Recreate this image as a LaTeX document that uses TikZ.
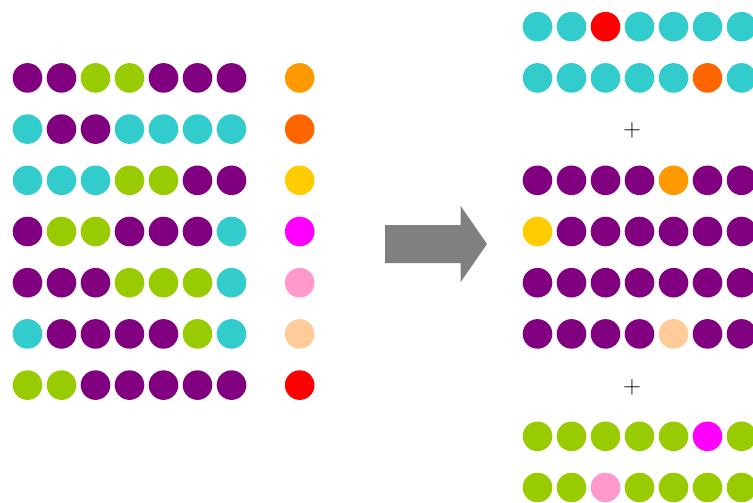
\documentclass[tikz,border=0pt]{standalone}
\usepackage{tikz}
\usetikzlibrary{positioning}
\definecolor{vio}{HTML}{800080}
\definecolor{lime}{HTML}{99CC00}
\definecolor{teal2}{HTML}{33CCCC}
\definecolor{amber}{HTML}{FF9900}
\definecolor{rust}{HTML}{FF6600}
\definecolor{gold}{HTML}{FFCC00}
\definecolor{mag}{HTML}{FF00FF}
\definecolor{rose}{HTML}{FF99CC}
\definecolor{peach}{HTML}{FFCC99}
\definecolor{signal}{HTML}{FF0000}
\tikzset{dot/.style={circle,minimum size=29.6pt,inner sep=0pt,outer sep=0pt},
  plusmark/.style={inner sep=0pt,font=\fontsize{27}{30}\selectfont},
  bigarr/.style={fill=gray}}

\begin{document}
\begin{tikzpicture}[x=1pt,y=-1pt]
\useasboundingbox (0,0) rectangle (753,503);
\clip (0,0) rectangle (753,503);
% left block: seven rows and a key colour for each
\foreach \r/\cols/\key in {1/{vio,vio,lime,lime,vio,vio,vio}/amber,
  2/{teal2,vio,vio,teal2,teal2,teal2,teal2}/rust,
  3/{teal2,teal2,teal2,lime,lime,vio,vio}/gold,
  4/{vio,lime,lime,vio,vio,vio,teal2}/mag,
  5/{vio,vio,vio,lime,lime,lime,teal2}/rose,
  6/{teal2,vio,vio,vio,vio,lime,teal2}/peach,
  7/{lime,lime,vio,vio,vio,vio,vio}/signal}{
  \foreach \c [count=\i] in \cols
    \node[dot,fill=\c] (L-\r-\i) at ({27.5+34*(\i-1)},{26.7+51.2*\r}) {};
  \node[dot,fill=\key] (K-\r) at (299.7,{26.7+51.2*\r}) {};
}
% arrow
\fill[bigarr] (385,225) -- (460.7,225) -- (460.7,206) -- (487,244) -- (460.7,282) -- (460.7,263) -- (385,263) -- cycle;
% right block
\foreach \r/\cols in {0/{teal2,teal2,signal,teal2,teal2,teal2,teal2},
  1/{teal2,teal2,teal2,teal2,teal2,rust,teal2},
  3/{vio,vio,vio,vio,amber,vio,vio},
  4/{gold,vio,vio,vio,vio,vio,vio},
  5/{vio,vio,vio,vio,vio,vio,vio},
  6/{vio,vio,vio,vio,peach,vio,vio},
  8/{lime,lime,lime,lime,lime,mag,lime},
  9/{lime,lime,rose,lime,lime,lime,lime}}{
  \foreach \c [count=\i] in \cols
    \node[dot,fill=\c] (R-\r-\i) at ({537.5+34*(\i-1)},{26.7+51.2*\r}) {};
}
\node[plusmark] (plus1) at (632,130.5) {$+$};
\node[plusmark] (plus2) at (632,387.5) {$+$};
\end{tikzpicture}
\end{document}
